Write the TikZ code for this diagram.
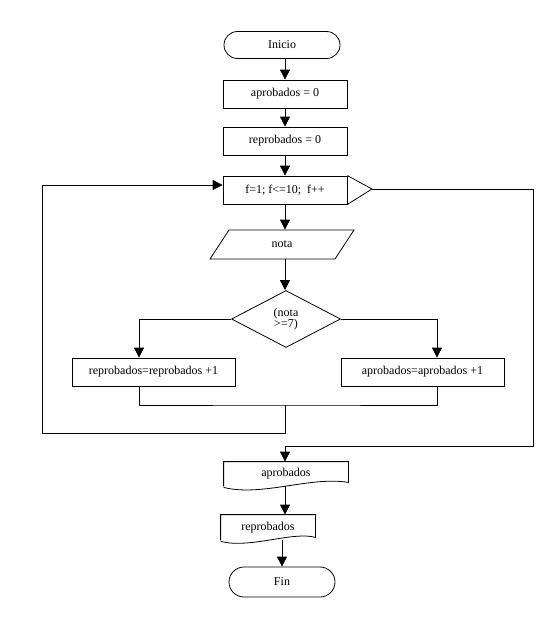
\documentclass[tikz,border=0pt]{standalone}
\usepackage{fontspec}
\setmainfont{Liberation Serif}
\usetikzlibrary{shapes.geometric,shapes.misc,arrows.meta}
\begin{document}
\begin{tikzpicture}[x=1pt,y=-1pt, line width=0.8pt,
  every node/.style={font=\fontsize{12}{12}\selectfont, inner sep=0pt},
  box/.style={draw, rectangle, minimum width=124pt, minimum height=28pt},
  term/.style={draw, rounded rectangle, minimum height=27pt},
  ghost/.style={rectangle},
  dec/.style={draw, diamond, aspect=1.9, minimum width=109pt, minimum height=57pt, align=center},
  arr/.style={-{Triangle[length=10pt,width=10pt]}}]
\useasboundingbox (0,0) rectangle (556,621);

% nodes
\node[term, minimum width=116pt] (ini) at (282,45) {Inicio};
\node[box] (a0) at (285,94) {aprobados = 0};
\node[box] (r0) at (285,141) {reprobados = 0};
\node[box] (loop) at (285,190) {f=1; f<=10;\ \ f++};
\coordinate (tip) at (372,189);
\draw (loop.north east) -- (tip) -- (loop.south east);

\node[ghost, minimum width=144pt, minimum height=29pt] (nota) at (282,244.5) {nota};
\draw (229,230) -- (354,230) -- (335,259) -- (210,259) -- cycle;

\node[dec] (cond) at (286,319) {(nota\\[-1pt]>=7)};

\node[box, minimum width=163pt] (rin) at (153.5,372) {reprobados=reprobados +1};
\node[box, minimum width=163pt] (ain) at (422.5,372) {aprobados=aprobados +1};

% output documents
\node[ghost, minimum width=124pt, minimum height=24pt] (aout) at (286,474) {aprobados};
\draw (aout.south west) |- (aout.north east) -- ([yshift=4pt]aout.south east)
  .. controls (310,476) and (262,497) .. ([yshift=-1pt]aout.south west);
\node[ghost, minimum width=94pt, minimum height=25pt] (rout) at (268,527.5) {reprobados};
\draw (rout.south west) |- (rout.north east) -- ([yshift=3pt]rout.south east)
  .. controls (293,531) and (250,549) .. ([yshift=-1pt]rout.south west);

\node[term, minimum width=106pt, minimum height=30pt] (fin) at (282,582) {Fin};

% connectors
\draw[arr] (ini.south -| a0.north) -- (a0.north);
\draw[arr] (a0.south) -- (r0.north);
\draw[arr] (r0.south) -- (loop.north);
\draw[arr] (loop.south) -- (loop.south |- nota.north);
\draw[arr] (loop.south |- nota.south) -- (loop.south |- cond.north);

\coordinate (bl) at (139,358);
\coordinate (br) at (437,358);
\draw[arr] (cond.west) -| (bl |- rin.north);
\draw[arr] (cond.east) -| (br |- ain.north);

\coordinate (mj) at (285,405);
\coordinate (lb) at (42,433);
\coordinate (lt) at (42,185);
\draw (bl |- rin.south) |- (mj) -| (br |- ain.south);
\draw[arr] (mj) |- (lb) -- (lt) -- (lt -| loop.west);

\coordinate (rt) at (533,189);
\coordinate (rb) at (533,446);
\draw[arr] (tip) -- (rt) -- (rb) -| (aout.north -| mj);

\draw[arr] (mj |- aout.south) -- (mj |- rout.north);
\draw[arr] (fin.north |- rout.south) -- (fin.north);
\end{tikzpicture}
\end{document}
